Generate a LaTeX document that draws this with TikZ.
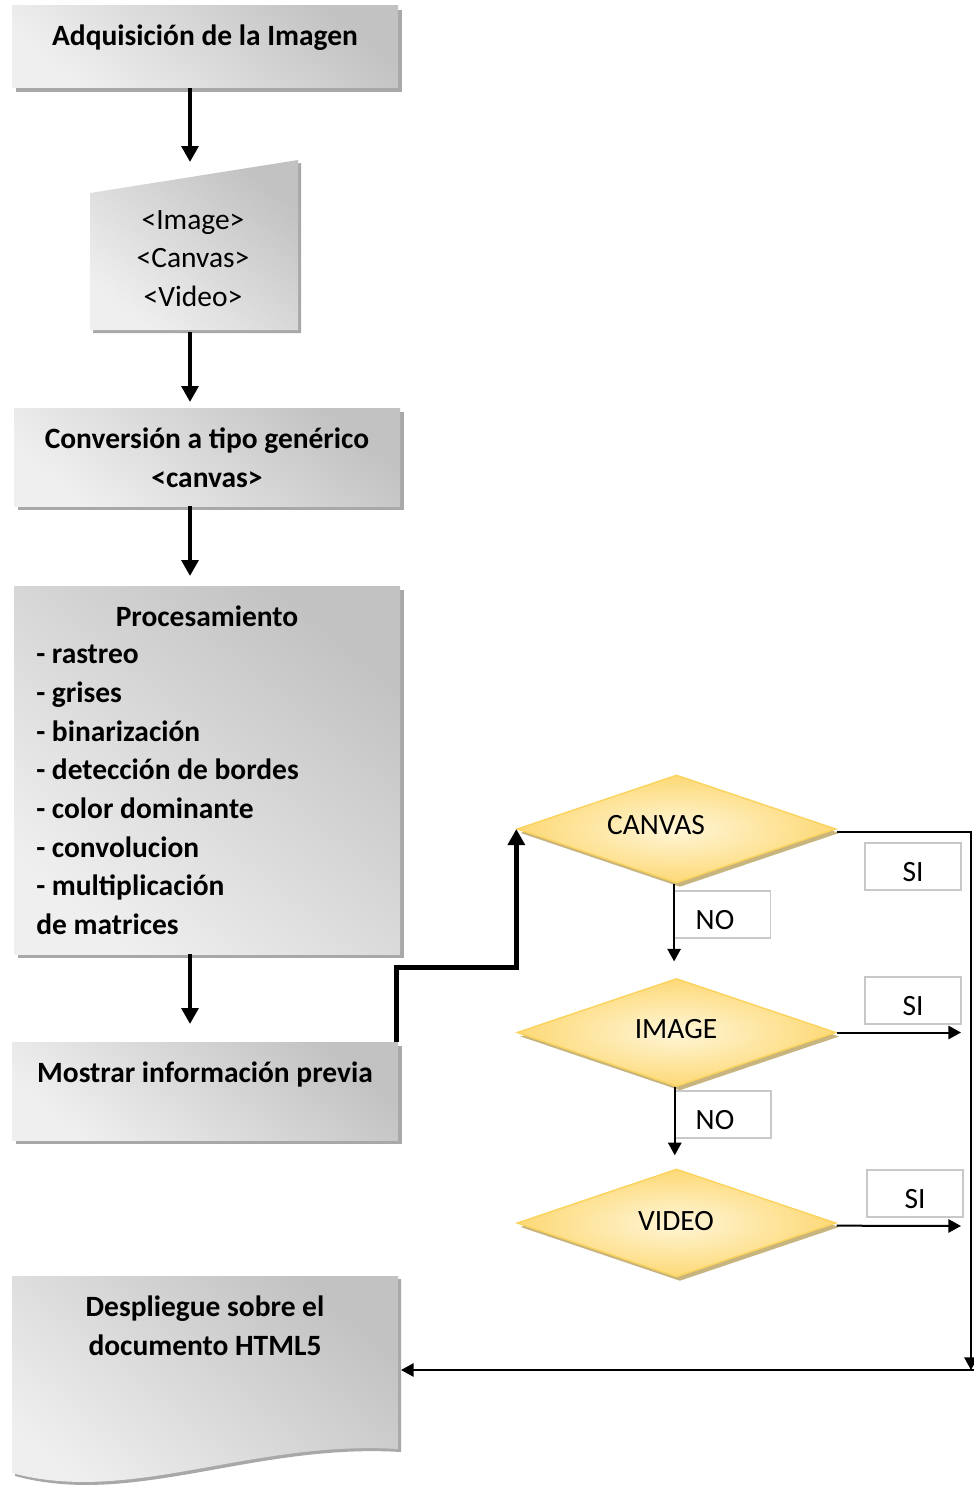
\documentclass[tikz,border=0pt]{standalone}
\usepackage{fontspec}
\setmainfont{Carlito}
\usetikzlibrary{shapes.geometric,arrows.meta,shadows}
\definecolor{boxdark}{HTML}{C2C2C2}
\definecolor{boxlight}{HTML}{EFEFEF}
\definecolor{boxshadow}{HTML}{A8A8A8}
\definecolor{diaborder}{HTML}{FBD35B}
\definecolor{diaout}{HTML}{FDD976}
\definecolor{diain}{HTML}{FFF6D8}
\definecolor{diashadow}{HTML}{C8B47E}
\definecolor{lblborder}{HTML}{C8C8C8}
\newcommand{\fsz}{\fontsize{22.1pt}{29pt}\selectfont}
\begin{document}
\begin{tikzpicture}[x=0.75pt,y=-0.75pt,
  graybox/.style={rectangle, inner sep=0pt, minimum width=289.5pt,
    top color=boxdark, bottom color=boxlight, shading angle=-40,
    drop shadow={shadow xshift=3pt, shadow yshift=-3pt, fill=boxshadow, opacity=1}},
  dia/.style={diamond, shape aspect=3, inner sep=0pt, minimum width=239.25pt, minimum height=81pt,
    draw=diaborder, line width=1pt, inner color=diain, outer color=diaout,
    drop shadow={shadow xshift=2.5pt, shadow yshift=-3pt, fill=diashadow, opacity=1, draw=none}},
  lblbox/.style={rectangle, draw=lblborder, line width=1.2pt, fill=white, inner sep=0pt,
    minimum width=72pt, minimum height=35pt},
  txt/.style={font=\fsz, inner sep=0pt},
  btxt/.style={font=\fsz\bfseries, inner sep=0pt},
  arrT/.style={line width=3.4pt, -{Triangle[length=12pt,width=12.5pt]}},
  arrt/.style={line width=1.5pt, -{Triangle[length=9.5pt,width=10pt]}}
]
\useasboundingbox (0,0) rectangle (974,1488);

% rectangular boxes
\node[graybox, minimum height=61.5pt] (b1) at (205,47) {};
\node[graybox, minimum height=73.5pt] (b3) at (207,457) {};
\node[graybox, minimum height=276pt] (b4) at (207,770) {};
\node[graybox, minimum height=73.5pt] (b5) at (205,1091) {};

% manual input shape
\fill[boxshadow] (93,196) -- (301,163) -- (301,333) -- (93,333) -- cycle;
\shade[top color=boxdark, bottom color=boxlight, shading angle=-40]
  (90,193) -- (298,160) -- (298,330) -- (90,330) -- cycle;

% document shape
\fill[boxshadow] (15,1279) -- (401,1279) -- (401,1452)
  .. controls (253,1443) and (133,1508) .. (15,1476) -- cycle;
\shade[top color=boxdark, bottom color=boxlight, shading angle=-40]
  (12,1276) -- (398,1276) -- (398,1449)
  .. controls (250,1440) and (130,1505) .. (12,1473) -- cycle;

% diamonds
\node[dia] (cv) at (676.5,829) {};
\node[dia] (im) at (676.5,1032.5) {};
\node[dia] (vd) at (676.5,1223) {};

% label boxes
\node[lblbox] (no1) at (722.5,914.5) {};
\node[lblbox] (no2) at (723,1114.5) {};
\node[lblbox] (si1) at (913,866.5) {};
\node[lblbox] (si2) at (913,1000.5) {};
\node[lblbox] (si3) at (915,1193.5) {};

% coordinates
\coordinate (ax) at (190,0);
\coordinate (a1e) at (190,162);
\coordinate (a2s) at (190,332);
\coordinate (a2e) at (190,402);
\coordinate (a3e) at (190,576);
\coordinate (a4e) at (190,1024);
\coordinate (rc) at (971,1370);
\coordinate (re) at (974,1370);
\coordinate (de) at (401,1370);
\coordinate (ie) at (961,1032.5);
\coordinate (ve) at (961,1226);

% connectors
\draw[arrT] (b1.south -| ax) -- (a1e);
\draw[arrT] (a2s) -- (a2e);
\draw[arrT] (b3.south -| ax) -- (a3e);
\draw[arrT] (b4.south -| ax) -- (a4e);
\draw[arrT] ([xshift=-1.2pt]b5.north east) -- ++(0,-74) -| (cv.west);
\draw[arrt] ([yshift=-2.5pt]cv.east) -| (rc);
\draw[arrt] (re) -- (de);
\draw[arrt] (im.east) -- (ie);
\draw[arrt] ([yshift=-2pt]vd.east) -- (ve);
\draw[arrt, shorten >=12.3pt] ([xshift=-1.8pt]cv.south) -- ([xshift=-1.8pt]im.north);
\draw[arrt, shorten >=9.8pt] ([xshift=-1.3pt]im.south) -- ([xshift=-1.3pt]vd.north);

% texts
\node[btxt] (t1) at (205,37.5) {Adquisición de la Imagen};
\node[txt, align=center] (mi) at (193,258.5) {<Image>\\<Canvas>\\<Video>};
\node[btxt, align=center] (t3) at (207,458) {Conversión a tipo genérico\\<canvas>};
\node[btxt] (t4) at (207,616.5) {Procesamiento};
\node[btxt, align=left, anchor=west] (t4l) at (36,790) {- rastreo\\- grises\\- binarización\\- detección de bordes\\- color dominante\\- convolucion\\- multiplicación\\de matrices};
\node[btxt] (t5) at (205,1074.5) {Mostrar información previa};
\node[btxt, align=center] (t6) at (205,1325.5) {Despliegue sobre el\\documento HTML5};
\node[txt] (tcv) at (656,825) {CANVAS};
\node[txt] (tim) at (676,1029) {IMAGE};
\node[txt] (tvd) at (676,1221) {VIDEO};
\node[txt] (tno1) at (715,920) {NO};
\node[txt] (tno2) at (715,1120) {NO};
\node[txt] (tsi1) at (913,872) {SI};
\node[txt] (tsi2) at (913,1006) {SI};
\node[txt] (tsi3) at (915,1199) {SI};
\end{tikzpicture}
\end{document}
